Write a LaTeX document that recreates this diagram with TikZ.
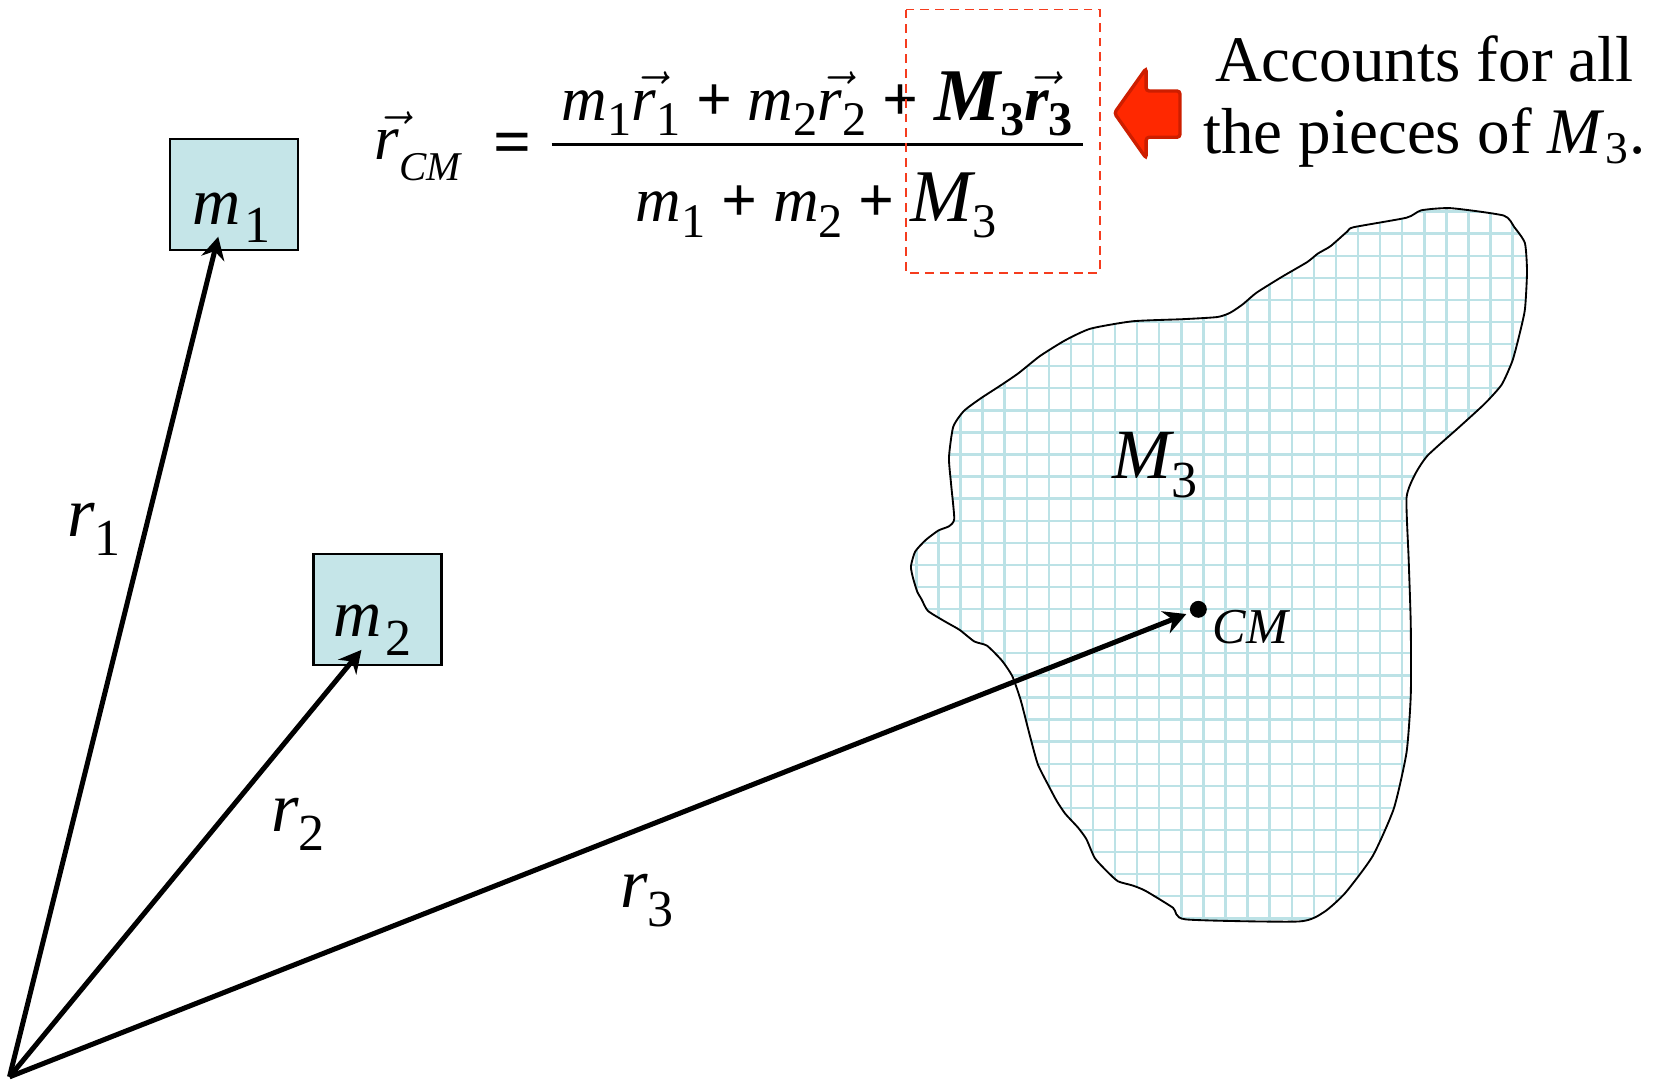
\documentclass[tikz,border=0pt]{standalone}
\usepackage{fontspec}
\setmainfont{Liberation Serif}
\usetikzlibrary{arrows.meta}

\definecolor{masscyan}{RGB}{197,229,232}
\definecolor{gridcyan}{RGB}{188,226,230}
\definecolor{hilite}{RGB}{245,60,30}
\definecolor{pointred}{RGB}{255,40,0}
\definecolor{pointedge}{RGB}{205,30,0}

\newcommand{\low}[1]{\raisebox{-5pt}{\fontsize{14}{14}\selectfont\upshape #1}}
\newcommand{\eqlow}[1]{\raisebox{-4.2pt}{\fontsize{13}{13}\selectfont\upshape #1}}
\newcommand{\vecr}[1]{$\skew{4}\vec{\mbox{#1}}$}
\newcommand{\plus}{\textup{\textbf{+}}}

\begin{document}
\begin{tikzpicture}[x=0.01cm, y=-0.01cm]
	\tikzstyle{mass} = [rectangle, draw, line width=0.6pt, fill=masscyan, minimum width=1.21cm, minimum height=1.05cm, inner sep=0pt]
	\tikzstyle{vec} = [draw, line width=1.35pt, -{Stealth[length=6pt, width=6.3pt, inset=2pt]}]
	\tikzstyle{lbl} = [anchor=base west, inner sep=0pt, font=\fontsize{19}{19}\selectfont\itshape]
	\tikzstyle{eq} = [anchor=base, inner sep=0pt, font=\fontsize{17}{17}\selectfont\itshape]
	\tikzstyle{gridline} = [gridcyan, line width=0.65pt]
	\tikzstyle{piece} = [draw, line width=0.5pt, fill=white, path picture={
			\foreach \k in {-11,...,16} \draw[gridline] ({1097+20.9*\k},190) -- ++(0,690);
			\foreach \k in {-16,...,16} \draw[gridline] (850,{534.6+20.9*\k}) -- ++(610,0);
		}]
	
	\useasboundingbox (0,0) rectangle (1568,1024);
	
	% the extended body M3
	\path[piece] plot[smooth cycle, tension=0.35] coordinates {
		(1331,206) (1345,199) (1373,197) (1423,204) (1433,215) (1443,230) (1445,257) (1443,293)
		(1437,320) (1431,342) (1421,364) (1405,382) (1381,404) (1351,431) (1339,449) (1331,471)
		(1333,529) (1335,591) (1335,658) (1331,712) (1319,765) (1299,810) (1273,845) (1253,863)
		(1229,872) (1122,870) (1110,859) (1084,843) (1072,838) (1058,834) (1048,825) (1036,812)
		(1028,794) (1020,783) (1008,770) (1000,758) (992,743) (982,723) (974,694) (966,663)
		(958,640) (948,625) (934,611) (922,607) (908,596) (894,588) (878,578) (872,567)
		(868,560) (864,547) (862,536) (866,522) (876,511) (888,502) (898,498) (903,491)
		(900,458) (898,433) (902,404) (912,389) (928,377) (948,364) (964,353) (984,337)
		(1008,322) (1032,311) (1072,304) (1120,302) (1152,300) (1164,296) (1176,288) (1189,277)
		(1213,262) (1237,248) (1247,240) (1259,233) (1275,219) (1281,215)};
	\node[lbl] (M3) at (1052,453) {M\low{3}};
	
	% point masses
	\node[mass] (m1) at (221.3,184.3) {};
	\node[mass] (m2) at (357.3,576.8) {};
	\node[lbl, font=\fontsize{18}{18}\selectfont\itshape] (m1txt) at (181,212.3) {m\hspace{1pt}\low{1}};
	\node[lbl, font=\fontsize{18}{18}\selectfont\itshape] (m2txt) at (315.3,602.5) {m\hspace{1pt}\low{2}};
	
	\coordinate (origin) at (9,1019);
	\coordinate (m1tip) at (206.5,224);
	\coordinate (m2tip) at (342,615);
	\node[circle, fill, inner sep=0pt, minimum size=0.16cm] (cm) at (1134,576.6) {};
	\node[anchor=base west, inner sep=0pt, font=\fontsize{13.5}{13.5}\selectfont\itshape] (cmtxt) at (1147,608.6) {CM};
	
	\path[vec] (origin) -- (m1tip);
	\path[vec] (origin) -- (m2tip);
	\path[vec, shorten >=1pt] (origin) -- (cm);
	
	\node[lbl] (r1) at (63,508) {r\low{1}};
	\node[lbl] (r2) at (256,787) {r\low{2}};
	\node[lbl] (r3) at (586,859) {r\low{3}};
	
	% the formula
	\node[eq, anchor=base west] (rcm) at (354,151.4) {\vecr{\itshape r}\raisebox{-5.4pt}{\fontsize{11}{11}\selectfont CM}};
	\node[anchor=base, inner sep=0pt, font=\fontsize{18}{18}\selectfont\bfseries] (equals) at (485,156) {=};
	\node[eq] (num) at (773.5,113.6) {m\eqlow{1}\vecr{\itshape r}\eqlow{1} \plus{} m\eqlow{2}\vecr{\itshape r}\eqlow{2} \plus{} {\fontsize{20}{20}\selectfont\bfseries M}\eqlow{\bfseries 3}\vecr{\bfseries\itshape r}\eqlow{\bfseries 3}};
	\node[eq] (den) at (772.5,209.7) {m\eqlow{1} \plus{} m\eqlow{2} \plus{} {\fontsize{20}{20}\selectfont M}\eqlow{3}};
	\draw[line width=0.75pt] (522,137) -- (1025,137);
	\draw[hilite, line width=0.5pt, dash pattern=on 2.4pt off 1.6pt] (857,9) rectangle (1041,258);
	
	% pointer and note
	\filldraw[fill=pointred, draw=pointedge, line width=0.9pt, rounded corners=0.8pt] (1054.5,107) -- (1084.6,64.6) -- (1084.6,86.1) -- (1116.6,86.1) -- (1116.6,129.9) -- (1084.6,129.9) -- (1084.6,149.8) -- cycle;
	\node[align=center, inner sep=0pt, font=\fontsize{17.5}{19.4}\selectfont] (note) at (1348,96.5) {Accounts for all\\the pieces of \textit{M}\textsubscript{3}.};
	
\end{tikzpicture}
\end{document}
